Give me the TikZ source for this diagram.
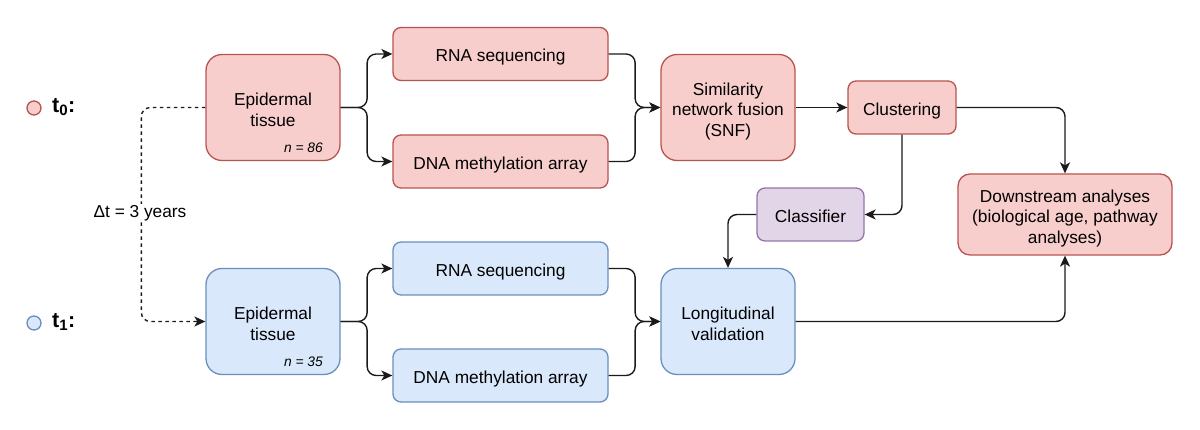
\documentclass[tikz,border=0pt]{standalone}
\usepackage{fontspec}
\setmainfont{Liberation Sans}
\usetikzlibrary{arrows.meta,positioning,calc}
\definecolor{redfill}{HTML}{F8CECC}
\definecolor{redline}{HTML}{B85450}
\definecolor{bluefill}{HTML}{DAE8FC}
\definecolor{blueline}{HTML}{6C8EBF}
\definecolor{purpfill}{HTML}{E1D5E7}
\definecolor{purpline}{HTML}{9673A6}
\definecolor{edgecol}{HTML}{1A1A1A}
\newcommand{\topst}{\rule[-5pt]{0pt}{27.5pt}}
\newcommand{\botst}{\rule[-7pt]{0pt}{0pt}}
\newcommand{\topmst}{\rule[-5pt]{0pt}{29pt}}
\begin{document}
\begin{tikzpicture}[x=1pt,y=-1pt,
  every node/.style={font=\fontsize{17.3}{20.5}\selectfont, align=center, inner sep=0pt},
  box/.style={draw, line width=1.3pt, minimum width=#1},
  redbox/.style={box=#1, fill=redfill, draw=redline},
  bluebox/.style={box=#1, fill=bluefill, draw=blueline},
  purpbox/.style={box=#1, fill=purpfill, draw=purpline},
  bigh/.style={minimum height=106pt, rounded corners=16pt},
  smallh/.style={minimum height=53pt, rounded corners=8pt},
  arr/.style={draw=edgecol, line width=1.4pt, rounded corners=9pt, -{Stealth[length=11pt,width=10pt,inset=3pt]}},
  dasharr/.style={arr, dash pattern=on 3.5pt off 3.5pt},
  nlabel/.style={font=\fontsize{13.8}{16}\itshape, anchor=east},
  tlabel/.style={font=\fontsize{21.5}{24}\bfseries, anchor=west},
  dot/.style={circle, draw, line width=1.3pt, minimum size=14pt}
]
\useasboundingbox (0,0) rectangle (1200,430);

% t labels
\node[dot, fill=redfill, draw=redline] (c0) at (34,108) {};
\node[tlabel] (t0) at (52,107) {t\textsubscript{0}:};
\node[dot, fill=bluefill, draw=blueline] (c1) at (34,323) {};
\node[tlabel] (t1) at (52,322) {t\textsubscript{1}:};

% top row
\node[redbox=134pt, bigh] (ep0) at (273,107.5) {\topmst Epidermal\\tissue\botst};
\node[nlabel] (n0) at (323,147.5) {n = 86};
\node[redbox=215pt, smallh] (rna0) at (500.5,54) {\topst RNA sequencing\botst};
\node[redbox=215pt, smallh] (dna0) at (500.5,161.5) {\topst DNA methylation array\botst};
\node[redbox=134pt, bigh] (snf) at (728,107.5) {\topmst Similarity\\network fusion\\(SNF)\botst};
\node[redbox=108pt, smallh] (clus) at (902,107.5) {\topst Clustering\botst};
\node[purpbox=107pt, smallh] (cls) at (810.5,214.5) {\topst Classifier\botst};
\node[redbox=214pt, minimum height=81pt, rounded corners=12pt] (down) at (1065,214.5) {\topmst Downstream analyses\\(biological age, pathway\\analyses)\botst};

% bottom row
\node[bluebox=134pt, bigh] (ep1) at (273,321.5) {\topmst Epidermal\\tissue\botst};
\node[nlabel] (n1) at (323,361.5) {n = 35};
\node[bluebox=215pt, smallh] (rna1) at (500.5,268.5) {\topst RNA sequencing\botst};
\node[bluebox=215pt, smallh] (dna1) at (500.5,375.5) {\topst DNA methylation array\botst};
\node[bluebox=134pt, bigh] (lv) at (728,321.5) {\topmst Longitudinal\\validation\botst};

% connectors
\draw[arr] (ep0.east) -- ++(26.5,0) |- (rna0.west);
\draw[arr] (ep0.east) -- ++(26.5,0) |- (dna0.west);
\draw[arr] (rna0.east) -- ++(26.5,0) |- (snf.west);
\draw[arr] (dna0.east) -- ++(26.5,0) |- (snf.west);
\draw[arr] (snf.east) -- (clus.west);
\draw[arr] (clus.east) -| (down.north);
\draw[arr] (clus.south) |- (cls.east);
\draw[arr] (cls.west) -| (lv.north);
\draw[arr] (lv.east) -| (down.south);

\draw[arr] (ep1.east) -- ++(26.5,0) |- (rna1.west);
\draw[arr] (ep1.east) -- ++(26.5,0) |- (dna1.west);
\draw[arr] (rna1.east) -- ++(26.5,0) |- (lv.west);
\draw[arr] (dna1.east) -- ++(26.5,0) |- (lv.west);

\draw[dasharr] (ep0.west) -- ++(-64,0) |- (ep1.west);
\node[fill=white, inner sep=1pt] (dt) at (140,213) {Δt = 3 years};
\end{tikzpicture}
\end{document}
